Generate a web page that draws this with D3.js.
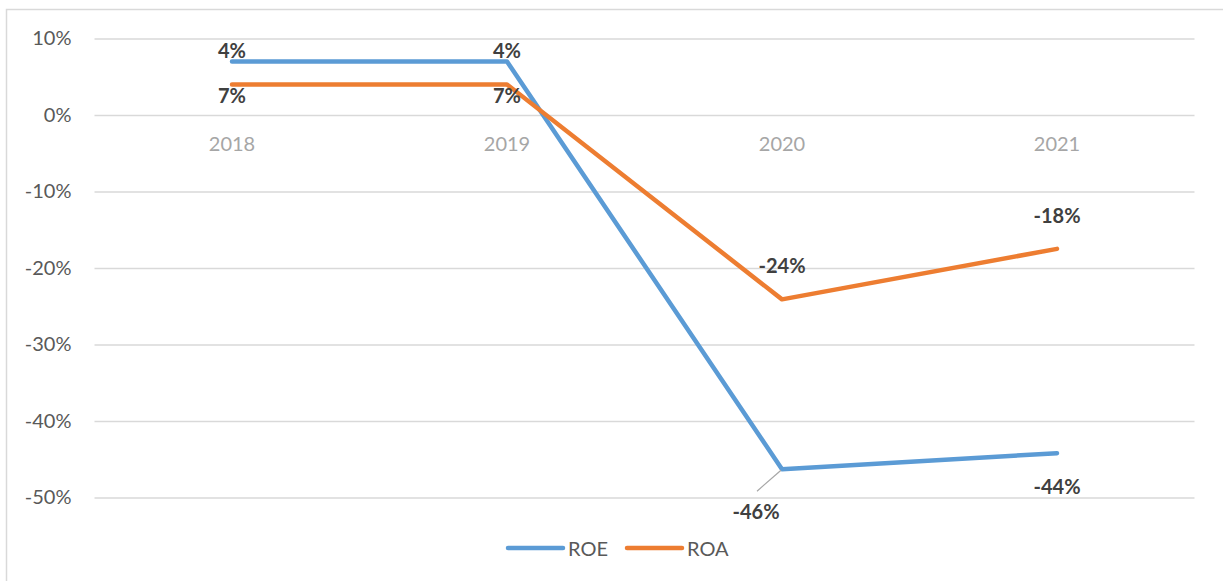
<!DOCTYPE html>
<html>
<head>
<meta charset="utf-8">
<script src="https://cdn.jsdelivr.net/npm/d3@7"></script>
<style>
  html, body { margin: 0; padding: 0; background: #fff; }
  svg { display: block; font-family: Lato, "Open Sans", sans-serif; }
</style>
</head>
<body>
<div id="chart"></div>
<script>
// data
const years = ['2018', '2019', '2020', '2021'];
const roe = [7.0, 7.0, -46.3, -44.2];
const roa = [4.0, 4.0, -24.1, -17.5];
// labels as printed on the original (they are swapped there)
const roeLabels = ['4%', '4%', '-46%', '-44%'];
const roaLabels = ['7%', '7%', '-24%', '-18%'];
const yTicks = [10, 0, -10, -20, -30, -40, -50];
const seriesNames = ['ROE', 'ROA'];
const seriesColors = ['#5B9BD5', '#ED7D31'];

// SIZE
const width = 1223;
const height = 581;
const margin = { top: 38.5, right: 28.5, bottom: 83.5, left: 94.5 };
const innerWidth = width - margin.left - margin.right;
const innerHeight = 497.5 - margin.top;

const svg = d3.select('#chart').append('svg')
  .attr('width', width)
  .attr('height', height);

// chart border
svg.append('rect')
  .attr('x', 6.5).attr('y', 9.5)
  .attr('width', 1240).attr('height', 600)
  .attr('fill', 'none')
  .attr('stroke', '#D9D9D9')
  .attr('stroke-width', 1.5);

const g = svg.append('g')
  .attr('transform', `translate(${margin.left}, ${margin.top})`);

const xScale = d3.scaleBand()
  .domain(years)
  .range([0, innerWidth]);

const yScale = d3.scaleLinear()
  .domain([-50, 10])
  .range([innerHeight, 0]);

const cx = d => xScale(d) + xScale.bandwidth() / 2;

// gridlines + y labels
const yAxis = d3.axisLeft(yScale)
  .tickValues(yTicks)
  .tickSize(-innerWidth)
  .tickPadding(23)
  .tickFormat(d => d + '%');

const yG = g.append('g').call(yAxis);
yG.select('.domain').remove();
yG.selectAll('.tick line').attr('stroke', '#D9D9D9').attr('stroke-width', 1.5);
yG.selectAll('.tick text')
  .attr('fill', '#595959')
  .attr('font-size', 20)
  .attr('font-family', 'Lato, "Open Sans", sans-serif');

// category labels under zero line
const xAxis = d3.axisBottom(xScale).tickSize(0).tickPadding(22);
const xG = g.append('g')
  .attr('transform', `translate(0, ${yScale(0)})`)
  .call(xAxis);
xG.select('.domain').remove();
xG.selectAll('.tick text')
  .attr('fill', '#A6A6A6')
  .attr('font-size', 20)
  .attr('font-family', 'Lato, "Open Sans", sans-serif');

// lines
const line = d3.line()
  .x((d, i) => cx(years[i]))
  .y(d => yScale(d));

[roe, roa].forEach((vals, k) => {
  g.append('path')
    .datum(vals)
    .attr('d', line)
    .attr('fill', 'none')
    .attr('stroke', seriesColors[k])
    .attr('stroke-width', 4.5)
    .attr('stroke-linejoin', 'round')
    .attr('stroke-linecap', 'round');
});

// leader line for -46%
g.append('line')
  .attr('x1', cx('2020') - 25).attr('y1', yScale(roe[2]) + 22)
  .attr('x2', cx('2020') - 1).attr('y2', yScale(roe[2]) + 1)
  .attr('stroke', '#A6A6A6')
  .attr('stroke-width', 1.2);

// data labels: dx, dy offset from point to baseline
const roeOffsets = [[0, -3], [0, -3], [-26, 50], [0, 41]];
const roaOffsets = [[0, 19], [0, 19], [0, -26], [0, -26]];

function addLabels(vals, labels, offsets) {
  g.append('g').selectAll('text')
    .data(vals)
    .enter().append('text')
    .attr('x', (d, i) => cx(years[i]) + offsets[i][0])
    .attr('y', (d, i) => yScale(d) + offsets[i][1])
    .attr('text-anchor', 'middle')
    .attr('font-size', 20)
    .attr('font-weight', 'bold')
    .attr('fill', '#404040')
    .text((d, i) => labels[i]);
}
addLabels(roe, roeLabels, roeOffsets);
addLabels(roa, roaLabels, roaOffsets);

// legend
const legend = svg.append('g').attr('transform', 'translate(508, 548)');
seriesNames.forEach((name, i) => {
  const lg = legend.append('g').attr('transform', `translate(${i * 119}, 0)`);
  lg.append('line')
    .attr('x1', 0).attr('x2', 55)
    .attr('y1', 0).attr('y2', 0)
    .attr('stroke', seriesColors[i])
    .attr('stroke-width', 4.5)
    .attr('stroke-linecap', 'round');
  lg.append('text')
    .attr('x', 60).attr('y', 8)
    .attr('font-size', 20)
    .attr('fill', '#595959')
    .text(name);
});
</script>
</body>
</html>
